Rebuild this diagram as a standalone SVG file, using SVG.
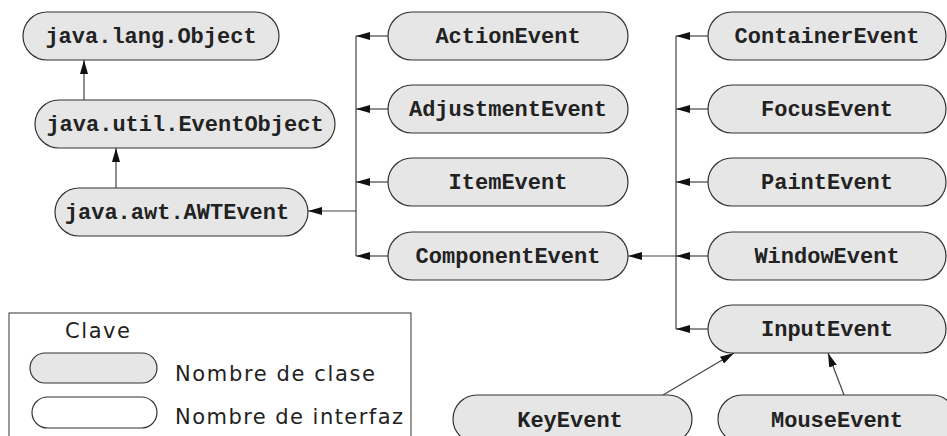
<svg xmlns="http://www.w3.org/2000/svg" width="947" height="436" viewBox="0 0 947 436">
<style>
.n{fill:#e6e6e6;stroke:#333;stroke-width:1.2}
.i{fill:#fff;stroke:#333;stroke-width:1.2}
.t{font-family:"Liberation Mono","Courier New",monospace;font-weight:bold;font-size:22px;fill:#222;text-anchor:middle}
.c{fill:none;stroke:#444;stroke-width:1.2}
.a{marker-end:url(#ah)}
.l{font-family:"DejaVu Sans","Liberation Sans",sans-serif;font-size:21px;fill:#222}
</style>
<defs>
<marker id="ah" markerUnits="userSpaceOnUse" markerWidth="14" markerHeight="8" refX="14" refY="4" orient="auto">
<path d="M0,0 L14,4 L0,8 z" fill="#111"/>
</marker>
</defs>
<g id="connectors">
<line class="c a" x1="84" y1="100" x2="84" y2="60"/>
<line class="c a" x1="116" y1="188" x2="116" y2="148"/>
<line class="c" x1="356" y1="36" x2="356" y2="256"/>
<line class="c a" x1="356" y1="211" x2="308" y2="211"/>
<line class="c a" x1="388" y1="36" x2="356" y2="36"/>
<line class="c a" x1="388" y1="109" x2="356" y2="109"/>
<line class="c a" x1="388" y1="182" x2="356" y2="182"/>
<line class="c a" x1="388" y1="256" x2="356" y2="256"/>
<line class="c" x1="676" y1="36" x2="676" y2="329"/>
<line class="c a" x1="676" y1="256" x2="628" y2="256"/>
<line class="c a" x1="708" y1="36" x2="676" y2="36"/>
<line class="c a" x1="708" y1="109" x2="676" y2="109"/>
<line class="c a" x1="708" y1="182" x2="676" y2="182"/>
<line class="c a" x1="708" y1="256" x2="676" y2="256"/>
<line class="c a" x1="708" y1="329" x2="676" y2="329"/>
<line class="c a" x1="663" y1="395" x2="734" y2="353"/>
<line class="c a" x1="844" y1="395" x2="828" y2="353"/>
</g>
<g id="object"><rect class="n" x="23" y="12" width="256" height="48" rx="24"/><text class="t" x="151" y="43">java.lang.Object</text></g>
<g id="eventobject"><rect class="n" x="35" y="100" width="300" height="48" rx="24"/><text class="t" x="185" y="131">java.util.EventObject</text></g>
<g id="awtevent"><rect class="n" x="55" y="188" width="253" height="48" rx="24"/><text class="t" x="177" y="219">java.awt.AWTEvent</text></g>
<g id="actionevent"><rect class="n" x="388" y="12" width="240" height="48" rx="24"/><text class="t" x="508" y="43">ActionEvent</text></g>
<g id="adjustmentevent"><rect class="n" x="388" y="85" width="240" height="48" rx="24"/><text class="t" x="508" y="116">AdjustmentEvent</text></g>
<g id="itemevent"><rect class="n" x="388" y="158" width="240" height="48" rx="24"/><text class="t" x="508" y="189">ItemEvent</text></g>
<g id="componentevent"><rect class="n" x="388" y="232" width="240" height="48" rx="24"/><text class="t" x="508" y="263">ComponentEvent</text></g>
<g id="containerevent"><rect class="n" x="708" y="12" width="238" height="48" rx="24"/><text class="t" x="827" y="43">ContainerEvent</text></g>
<g id="focusevent"><rect class="n" x="708" y="85" width="238" height="48" rx="24"/><text class="t" x="827" y="116">FocusEvent</text></g>
<g id="paintevent"><rect class="n" x="708" y="158" width="238" height="48" rx="24"/><text class="t" x="827" y="189">PaintEvent</text></g>
<g id="windowevent"><rect class="n" x="708" y="232" width="238" height="48" rx="24"/><text class="t" x="827" y="263">WindowEvent</text></g>
<g id="inputevent"><rect class="n" x="708" y="305" width="238" height="48" rx="24"/><text class="t" x="827" y="336">InputEvent</text></g>
<g id="keyevent"><rect class="n" x="453" y="395" width="239" height="48" rx="24"/><text class="t" x="570" y="427">KeyEvent</text></g>
<g id="mouseevent"><rect class="n" x="718" y="395" width="238" height="48" rx="24"/><text class="t" x="837" y="427">MouseEvent</text></g>
<g id="legend">
<rect x="9" y="313" width="402" height="140" fill="#fff" stroke="#555" stroke-width="1.2"/>
<text class="l" x="65" y="338" textLength="65">Clave</text>
<rect class="n" x="30" y="353" width="127" height="30" rx="15"/>
<text class="l" x="175" y="381" textLength="200">Nombre de clase</text>
<rect class="i" x="32" y="397" width="125" height="31" rx="15.5"/>
<text class="l" x="175" y="424" textLength="228">Nombre de interfaz</text>
</g>
</svg>
